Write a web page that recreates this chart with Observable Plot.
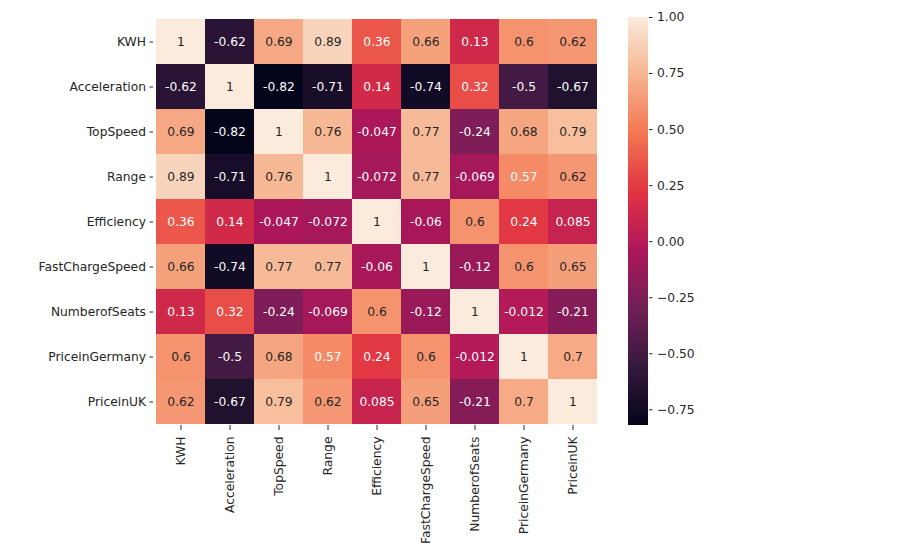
<!DOCTYPE html>
<html><head><meta charset="utf-8">
<script src="https://cdn.jsdelivr.net/npm/d3@7"></script>
<script src="https://cdn.jsdelivr.net/npm/@observablehq/plot@0.6"></script>
<style>
html,body{margin:0;padding:0;background:#fff;}
#wrap{position:relative;width:918px;height:558px;}
#wrap svg{position:absolute;left:0;top:0;background:transparent;}
</style></head><body><div id="wrap"></div>
<script>
// Variables (rows and columns)
const variables = ["KWH","Acceleration","TopSpeed","Range","Efficiency","FastChargeSpeed","NumberofSeats","PriceinGermany","PriceinUK"];
// Correlation rows
const rowKWH             = [1, -0.62, 0.69, 0.89, 0.36, 0.66, 0.13, 0.6, 0.62];
const rowAcceleration    = [-0.62, 1, -0.82, -0.71, 0.14, -0.74, 0.32, -0.5, -0.67];
const rowTopSpeed        = [0.69, -0.82, 1, 0.76, -0.047, 0.77, -0.24, 0.68, 0.79];
const rowRange           = [0.89, -0.71, 0.76, 1, -0.072, 0.77, -0.069, 0.57, 0.62];
const rowEfficiency      = [0.36, 0.14, -0.047, -0.072, 1, -0.06, 0.6, 0.24, 0.085];
const rowFastChargeSpeed = [0.66, -0.74, 0.77, 0.77, -0.06, 1, -0.12, 0.6, 0.65];
const rowNumberofSeats   = [0.13, 0.32, -0.24, -0.069, 0.6, -0.12, 1, -0.012, -0.21];
const rowPriceinGermany  = [0.6, -0.5, 0.68, 0.57, 0.24, 0.6, -0.012, 1, 0.7];
const rowPriceinUK       = [0.62, -0.67, 0.79, 0.62, 0.085, 0.65, -0.21, 0.7, 1];
// Colorbar tick labels
const colorbarTicks = [1.0, 0.75, 0.5, 0.25, 0, -0.25, -0.5, -0.75];
// "rocket" colormap stops (evenly spaced)
const rocketStops = ["#03051a","#35193e","#701f57","#ad1759","#e13342","#f37651","#f6b48f","#faebdd"];

const rows = [rowKWH,rowAcceleration,rowTopSpeed,rowRange,rowEfficiency,rowFastChargeSpeed,rowNumberofSeats,rowPriceinGermany,rowPriceinUK];
const cells = [];
rows.forEach((r,i)=>r.forEach((v,j)=>cells.push({row: variables[i], col: variables[j], value: v})));
const vmin = d3.min(cells, d=>d.value), vmax = d3.max(cells, d=>d.value);
const interp = d3.piecewise(d3.interpolateRgb, rocketStops);
const colorOf = v => interp((v - vmin)/(vmax - vmin));
function lum(c){
  const col = d3.rgb(c);
  const f = x => { x/=255; return x <= 0.03928 ? x/12.92 : Math.pow((x+0.055)/1.055, 2.4); };
  return 0.2126*f(col.r) + 0.7152*f(col.g) + 0.0722*f(col.b);
}
const colorScale = {type: "linear", domain: [vmin, vmax], interpolate: interp};
const font = {fontFamily: "'DejaVu Sans', sans-serif", fontSize: "12.3px", color: "#262626", background: "transparent"};

const main = Plot.plot({
  width: 918, height: 558,
  marginLeft: 153, marginRight: 318, marginTop: 17, marginBottom: 133,
  style: font,
  x: {domain: variables, padding: 0, label: null},
  y: {domain: variables, padding: 0, label: null},
  color: colorScale,
  marks: [
    Plot.cell(cells, {x: "col", y: "row", fill: "value", inset: 0, shapeRendering: "crispEdges"}),
    Plot.text(cells, {x: "col", y: "row", text: d => String(d.value), fontSize: 12.3,
      fill: {value: d => lum(colorOf(d.value)) > 0.408 ? "#262626" : "#ffffff", scale: null}}),
    Plot.axisX({anchor: "bottom", tickRotate: -90, tickSize: 5, tickPadding: 6, label: null, fontSize: 12.3}),
    Plot.axisY({anchor: "left", tickSize: 3.5, tickPadding: 4, label: null, fontSize: 12.3})
  ]
});

const n = 408;
const steps = d3.range(n).map(i => ({
  y1: vmin + (vmax - vmin) * i / n,
  y2: vmin + (vmax - vmin) * Math.min(1, (i + 1.5) / n),
  v: vmin + (vmax - vmin) * (i + 0.5) / n
}));
const bar = Plot.plot({
  width: 918, height: 558,
  marginLeft: 628, marginRight: 270, marginTop: 17, marginBottom: 133,
  style: font,
  x: {domain: [0, 1], axis: null},
  y: {domain: [vmin, vmax], label: null, axis: null},
  color: colorScale,
  marks: [
    Plot.rect(steps, {x1: () => 0, x2: () => 1, y1: "y1", y2: "y2", fill: "v", shapeRendering: "crispEdges"}),
    Plot.axisY({anchor: "right", ticks: colorbarTicks, tickFormat: d3.format(".2f"), tickSize: 3.5, tickPadding: 5, label: null, fontSize: 12.3})
  ]
});
document.getElementById("wrap").append(main, bar);
</script></body></html>
